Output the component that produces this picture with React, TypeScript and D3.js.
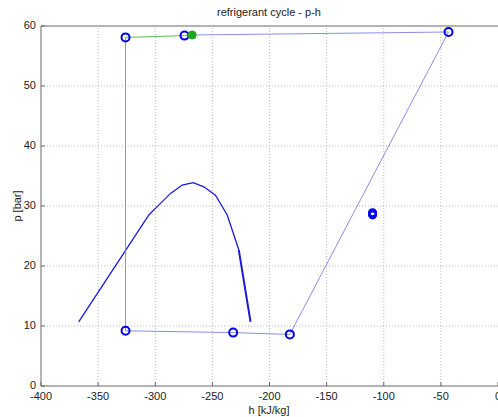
import React from 'react';
import * as d3 from 'd3';

// cycle state points (h in kJ/kg, p in bar)
const cycleH = [-267.7, -43.3, -182.2, -231.8, -326.0, -326.0];
const cycleP = [58.5, 59.0, 8.6, 8.9, 9.2, 58.1];
const markerH = [-326.0, -274.4, -43.3, -182.2, -231.8, -326.0];
const markerP = [58.1, 58.4, 59.0, 8.6, 8.9, 9.2];
// compressor path (green)
const greenH = [-326.0, -274.4, -267.7];
const greenP = [58.1, 58.4, 58.5];
// saturation dome
const domeH = [-367.0, -305.6, -298.3, -286.6, -276.4, -266.8, -257.5, -247.3, -237.0, -226.9];
const domeP = [10.7, 28.5, 29.9, 32.1, 33.5, 33.9, 33.2, 31.8, 28.5, 22.7];
const domeTailH = [-226.9, -216.6];
const domeTailP = [22.7, 10.7];
// single point
const extraH = [-109.8];
const extraP = [28.7];

const xTicks = [-400, -350, -300, -250, -200, -150, -100, -50, 0];
const yTicks = [0, 10, 20, 30, 40, 50, 60];

const W = 498, H = 417;
const m = { left: 41, right: 0, top: 26, bottom: 31 };

export default function App() {
  const x = d3.scaleLinear().domain([-400, 0]).range([m.left, W - m.right]);
  const y = d3.scaleLinear().domain([0, 60]).range([H - m.bottom, m.top]);
  const line = d3.line<[number, number]>().x(d => x(d[0])).y(d => y(d[1]));
  const zip = (a: number[], b: number[]) => a.map((v, i) => [v, b[i]] as [number, number]);
  const font = '"Liberation Sans", Arial, sans-serif';

  return (
    <svg width={W} height={H} style={{ position: 'absolute', left: 0, top: 0, background: '#fff' }} fontFamily={font}>
      {/* grid */}
      {xTicks.slice(1, -1).map(t => (
        <line key={'gx' + t} x1={x(t)} x2={x(t)} y1={y(0)} y2={y(60)} stroke="#aaa" strokeWidth={0.8} strokeDasharray="1,2" />
      ))}
      {yTicks.slice(1, -1).map(t => (
        <line key={'gy' + t} x1={x(-400)} x2={x(0)} y1={y(t)} y2={y(t)} stroke="#aaa" strokeWidth={0.8} strokeDasharray="1,2" />
      ))}
      {/* axes */}
      <line x1={x(-400)} x2={x(0)} y1={y(0)} y2={y(0)} stroke="#666" />
      <line x1={x(-400)} x2={x(0)} y1={y(60)} y2={y(60)} stroke="#666" />
      <line x1={x(-400)} x2={x(-400)} y1={y(0)} y2={y(60)} stroke="#666" />
      {xTicks.map(t => (
        <g key={'xt' + t}>
          <line x1={x(t)} x2={x(t)} y1={y(0)} y2={y(0) - 4} stroke="#666" />
          <text x={x(t)} y={y(0) + 14} fontSize={11} textAnchor="middle" fill="#222">{t}</text>
        </g>
      ))}
      {yTicks.map(t => (
        <g key={'yt' + t}>
          <line x1={x(-400)} x2={x(-400) + 4} y1={y(t)} y2={y(t)} stroke="#666" />
          <text x={x(-400) - 5} y={y(t) + 3} fontSize={11} textAnchor="end" fill="#222">{t}</text>
        </g>
      ))}
      <text x={269} y={16} fontSize={11} textAnchor="middle" fill="#222">refrigerant cycle - p-h</text>
      <text x={269} y={414} fontSize={11} textAnchor="middle" fill="#222">h [kJ/kg]</text>
      <text transform="translate(21,206) rotate(-90)" fontSize={11} textAnchor="middle" fill="#222">p [bar]</text>

      {/* dome */}
      <path d={line(zip(domeH, domeP)) || ''} fill="none" stroke="#1a1ad8" strokeWidth={1.3} />
      <path d={line(zip(domeTailH, domeTailP)) || ''} fill="none" stroke="#1a1ad8" strokeWidth={2} />
      {/* cycle */}
      <path d={line(zip(cycleH, cycleP)) || ''} fill="none" stroke="#8080e8" strokeWidth={0.9} />
      <path d={line(zip(greenH, greenP)) || ''} fill="none" stroke="#5cb85c" strokeWidth={1} />
      {markerH.map((h, i) => (
        <circle key={'mk' + i} cx={x(h)} cy={y(markerP[i])} r={4} fill="none" stroke="#0000f0" strokeWidth={2} />
      ))}
      <circle cx={x(greenH[2])} cy={y(greenP[2])} r={4} fill="#1fa51f" stroke="#1fa51f" strokeWidth={1} />
      {extraH.map((h, i) => (
        <g key={'ex' + i}>
          <circle cx={x(h)} cy={y(extraP[i]) - 1} r={3.5} fill="none" stroke="#0000f0" strokeWidth={2.2} />
          <circle cx={x(h)} cy={y(extraP[i]) + 1} r={3.5} fill="none" stroke="#0000f0" strokeWidth={2.2} />
        </g>
      ))}
    </svg>
  );
}
